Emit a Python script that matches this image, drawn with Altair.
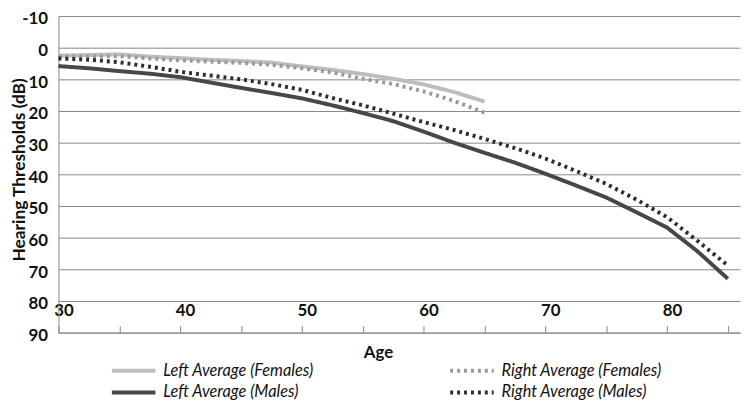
import altair as alt
import pandas as pd

ages_f = [30, 32.5, 35, 37.5, 40, 42.5, 45, 47.5, 50, 52.5, 55, 57.5, 60, 62.5, 65]
left_f = [2.5, 2.3, 2.1, 2.8, 3.3, 3.8, 4.2, 4.7, 5.9, 7.0, 8.3, 9.8, 11.6, 14.0, 17.0]
right_f = [2.9, 2.8, 2.7, 3.4, 4.0, 4.4, 4.8, 5.4, 6.5, 7.8, 9.8, 11.5, 13.8, 16.8, 20.5]

ages_m = [30, 32.5, 35, 37.5, 40, 42.5, 45, 47.5, 50, 52.5, 55, 57.5, 60, 62.5,
          65, 67.5, 70, 72.5, 75, 77.5, 80, 82.5, 85]
left_m = [5.8, 6.5, 7.4, 8.2, 9.3, 11.0, 12.7, 14.3, 16.0, 18.2, 20.6, 23.2, 26.5, 30.0,
          33.2, 36.3, 39.8, 43.5, 47.3, 52.0, 56.8, 64.3, 73.0]
right_m = [3.4, 3.8, 4.6, 6.0, 7.6, 8.8, 10.0, 11.5, 13.3, 15.9, 18.2, 20.8, 23.5, 26.0,
           28.8, 31.7, 35.0, 38.9, 43.0, 48.0, 53.5, 61.0, 68.8]

series = ["Left Average (Females)", "Right Average (Females)",
          "Left Average (Males)", "Right Average (Males)"]
colors = ["#bdbdbd", "#9a9a9a", "#474747", "#2e2e2e"]
dashes = [[1, 0], [3, 4], [1, 0], [3, 4]]

rows = []
for name, ages, vals in [(series[0], ages_f, left_f), (series[1], ages_f, right_f),
                         (series[2], ages_m, left_m), (series[3], ages_m, right_m)]:
    for a, v in zip(ages, vals):
        rows.append({"Age": a, "Threshold": v, "Series": name})
df = pd.DataFrame(rows)

x_ticks = [30, 35, 40, 45, 50, 55, 60, 65, 70, 75, 80, 85]
y_ticks = [-10, 0, 10, 20, 30, 40, 50, 60, 70, 80, 90]

W, H = 689, 320
font = "Lato"

legend_props = dict(title=None, orient="none", legendX=52, legendY=349,
                    direction="horizontal", columns=2, columnPadding=135,
                    rowPadding=3, clipHeight=19,
                    symbolType="stroke", symbolSize=1936,
                    symbolStrokeWidth=4, labelOffset=6,
                    labelFont=font, labelFontSize=16.5,
                    labelFontStyle="italic", labelColor="#111",
                    labelLimit=300)

chart = alt.Chart(df).mark_line(strokeWidth=4, strokeCap="butt").encode(
    x=alt.X("Age:Q",
            scale=alt.Scale(domain=[30, 86], nice=False, zero=False),
            axis=alt.Axis(orient="top", offset=-H, values=x_ticks, grid=False,
                          labelExpr="datum.value % 10 === 0 ? datum.label : ''",
                          labelFont=font, labelFontSize=17, labelFontWeight="bold",
                          labelColor="#111", labelOffset=5, labelBaseline="alphabetic",
                          labelPadding=10, labelFlush=False,
                          tickSize=7, tickColor="#888", domainColor="#888",
                          title="Age", titleFont=font, titleFontSize=17,
                          titleFontWeight="bold", titleColor="#111",
                          titleX=323, titleY=20, titleBaseline="middle",
                          titleAlign="center", titleAngle=0)),
    y=alt.Y("Threshold:Q",
            scale=alt.Scale(domain=[-10, 90], reverse=True, nice=False, zero=False),
            axis=alt.Axis(values=y_ticks, grid=True, gridColor="#888", gridOpacity=1,
                          ticks=False, domainColor="#888",
                          labelExpr="'' + datum.value",
                          labelFont=font, labelFontSize=17, labelFontWeight="bold",
                          labelColor="#111", labelPadding=11, labelOffset=3,
                          labelFlush=False,
                          title="Hearing Thresholds (dB)", titleFont=font,
                          titleFontSize=17.5, titleFontWeight="bold", titleColor="#111",
                          titleX=-39, titleY=155, titleAngle=270,
                          titleBaseline="middle", titleAlign="center")),
    color=alt.Color("Series:N",
                    scale=alt.Scale(domain=series, range=colors),
                    legend=alt.Legend(**legend_props)),
    strokeDash=alt.StrokeDash("Series:N",
                              scale=alt.Scale(domain=series, range=dashes),
                              legend=alt.Legend(**legend_props)),
).properties(
    width=W, height=H,
    autosize=alt.AutoSizeParams(type="none"),
    padding={"left": 51, "top": 6, "right": 2, "bottom": 66},
).configure_view(stroke=None)

chart.save("out.html", embed_options={"renderer": "svg", "actions": False})
